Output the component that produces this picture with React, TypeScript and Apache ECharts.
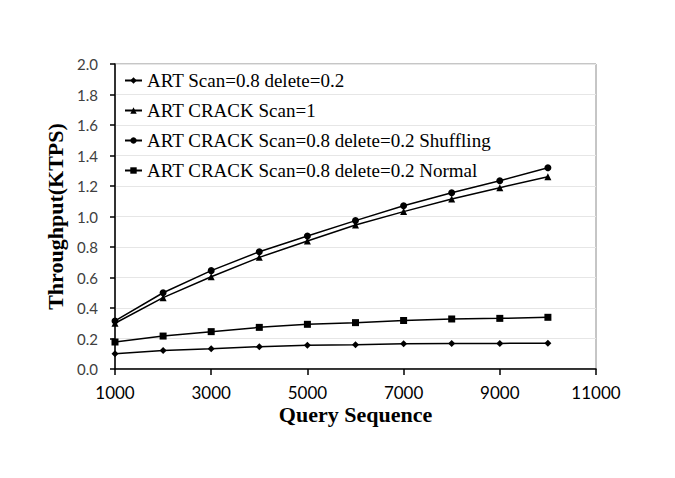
import React, { useEffect, useRef } from "react";
import * as echarts from "echarts";

const xValues = [1000, 2000, 3000, 4000, 5000, 6000, 7000, 8000, 9000, 10000];
const seriesNames = [
  "ART Scan=0.8 delete=0.2",
  "ART CRACK Scan=1",
  "ART CRACK Scan=0.8 delete=0.2 Shuffling",
  "ART CRACK Scan=0.8 delete=0.2 Normal",
];
const artScan = [0.10, 0.122, 0.133, 0.146, 0.155, 0.159, 0.165, 0.167, 0.168, 0.169];
const crackScan1 = [0.30, 0.468, 0.605, 0.732, 0.839, 0.944, 1.032, 1.115, 1.189, 1.261];
const crackShuffling = [0.315, 0.50, 0.645, 0.769, 0.872, 0.973, 1.071, 1.156, 1.235, 1.32];
const crackNormal = [0.177, 0.216, 0.245, 0.273, 0.293, 0.304, 0.318, 0.328, 0.332, 0.339];
const xTicks = [1000, 3000, 5000, 7000, 9000, 11000];
const symbols = ["diamond", "triangle", "circle", "rect"];
const symbolSizes = [7, 7, 7, 7];

export default function App() {
  const ref = useRef<HTMLDivElement>(null);
  useEffect(() => {
    if (!ref.current) return;
    const chart = echarts.init(ref.current, null, { renderer: "svg" });
    const all = [artScan, crackScan1, crackShuffling, crackNormal];
    chart.setOption({
      animation: false,
      backgroundColor: "#ffffff",
      grid: {
        left: 115,
        right: 79,
        top: 64,
        bottom: 109,
        show: true,
        borderColor: "#8c8c8c",
        borderWidth: 1,
      },
      legend: {
        orient: "vertical",
        left: 119,
        top: 66,
        itemGap: 11,
        itemWidth: 17,
        itemHeight: 8,
        data: seriesNames,
        textStyle: {
          fontFamily: "Liberation Serif",
          fontSize: 19,
          color: "#000",
        },
      },
      xAxis: {
        type: "value",
        min: 1000,
        max: 11000,
        name: "Query Sequence",
        nameLocation: "middle",
        nameGap: 34,
        nameMoveOverlap: false,
        nameTextStyle: {
          fontFamily: "Liberation Serif",
          fontWeight: "bold",
          fontSize: 22,
          color: "#000",
        },
        axisLine: { show: true, lineStyle: { color: "#000", width: 1.5 } },
        axisTick: {
          show: true,
          length: 6,
          customValues: xTicks,
          lineStyle: { color: "#000", width: 1.5 },
        },
        axisLabel: {
          customValues: xTicks,
          formatter: (v: number) => String(v),
          margin: 15,
          fontFamily: "Lato",
          fontSize: 17,
          color: "#000",
        },
        splitLine: { show: false },
      },
      yAxis: {
        type: "value",
        min: 0,
        max: 2,
        interval: 0.2,
        name: "Throughput(KTPS)",
        nameLocation: "middle",
        nameGap: 45,
        nameTextStyle: {
          fontFamily: "Liberation Serif",
          fontWeight: "bold",
          fontSize: 22,
          color: "#000",
        },
        axisLine: { show: true, lineStyle: { color: "#000", width: 1.5 } },
        axisTick: { show: true, length: 5, lineStyle: { color: "#000", width: 1.5 } },
        axisLabel: {
          formatter: (v: number) => v.toFixed(1),
          margin: 17,
          fontFamily: "Lato",
          fontSize: 15,
          color: "#404040",
        },
        splitLine: { show: true, lineStyle: { color: "#e6e6e6", width: 1 } },
      },
      series: seriesNames.map((name, i) => ({
        name,
        type: "line",
        data: xValues.map((x, j) => [x, all[i][j]]),
        symbol: symbols[i],
        symbolSize: symbolSizes[i],
        showSymbol: true,
        lineStyle: { color: "#000", width: 1.5 },
        itemStyle: { color: "#000" },
        emphasis: { disabled: true },
      })),
    });
    return () => chart.dispose();
  }, []);
  return (
    <div
      ref={ref}
      style={{ position: "fixed", left: 0, top: 0, width: 675, height: 478 }}
    />
  );
}
